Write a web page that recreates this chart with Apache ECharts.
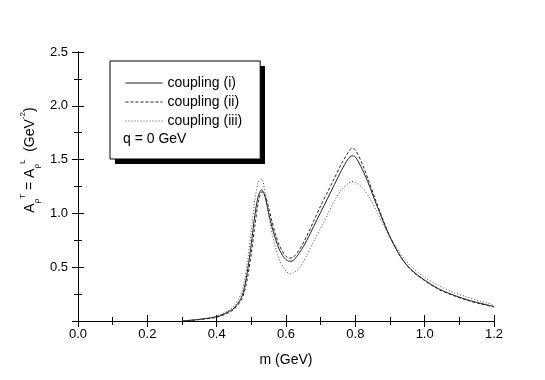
<!DOCTYPE html>
<html>
<head>
<meta charset="utf-8">
<script src="https://cdn.jsdelivr.net/npm/echarts@6/dist/echarts.min.js"></script>
<style>
html, body { margin: 0; padding: 0; background: #fff; }
#main { width: 545px; height: 380px; }
</style>
</head>
<body>
<div id="main"></div>
<script>
// m (GeV)
var mass = [0.30, 0.35, 0.40, 0.43, 0.45, 0.47, 0.48, 0.49, 0.50, 0.51, 0.52, 0.53, 0.54,
	0.55, 0.56, 0.57, 0.58, 0.59, 0.60, 0.61, 0.62, 0.64, 0.66, 0.68, 0.70, 0.72, 0.74,
	0.76, 0.78, 0.79, 0.80, 0.82, 0.84, 0.86, 0.88, 0.90, 0.93, 0.96, 1.00, 1.04, 1.08,
	1.12, 1.16, 1.20];
// coupling (i)
var coupling1 = [0.00, 0.015, 0.04, 0.08, 0.12, 0.21, 0.31, 0.49, 0.72, 0.98, 1.16, 1.22, 1.15,
	1.00, 0.87, 0.76, 0.67, 0.61, 0.57, 0.555, 0.56, 0.64, 0.75, 0.88, 1.01, 1.14, 1.27,
	1.40, 1.51, 1.535, 1.525, 1.41, 1.26, 1.09, 0.93, 0.78, 0.60, 0.48, 0.38, 0.30, 0.245,
	0.20, 0.165, 0.135];
// coupling (ii)
var coupling2 = [0.00, 0.013, 0.035, 0.07, 0.11, 0.19, 0.27, 0.42, 0.63, 0.88, 1.10, 1.20, 1.17,
	1.05, 0.92, 0.80, 0.71, 0.645, 0.60, 0.585, 0.59, 0.67, 0.79, 0.93, 1.07, 1.20, 1.33,
	1.46, 1.57, 1.605, 1.59, 1.46, 1.29, 1.11, 0.94, 0.785, 0.60, 0.475, 0.375, 0.295, 0.24,
	0.195, 0.16, 0.13];
// coupling (iii)
var coupling3 = [0.00, 0.016, 0.045, 0.09, 0.14, 0.25, 0.37, 0.58, 0.85, 1.12, 1.29, 1.32, 1.18,
	0.98, 0.81, 0.68, 0.58, 0.51, 0.465, 0.44, 0.445, 0.50, 0.61, 0.74, 0.86, 0.99, 1.12,
	1.22, 1.28, 1.295, 1.29, 1.24, 1.15, 1.03, 0.90, 0.78, 0.625, 0.51, 0.405, 0.33, 0.27,
	0.225, 0.185, 0.15];

var seriesNames = ['coupling (i)', 'coupling (ii)', 'coupling (iii)'];
var xTicks = [0.0, 0.2, 0.4, 0.6, 0.8, 1.0, 1.2];
var yTicks = [0.5, 1.0, 1.5, 2.0, 2.5];

function pairs(ys) {
	var out = [];
	for (var i = 0; i < mass.length; i++) {
		out.push([mass[i], ys[i]]);
	}
	return out;
}

var font = 'Liberation Sans, Arial, Helvetica, sans-serif';

// 图例框的大小(阴影要和它对齐)
var legendLeft = 110, legendTop = 61;
var legendPad = [15, 18, 31, 15];
var ctx = document.createElement('canvas').getContext('2d');
ctx.font = '14px ' + font;
var maxText = 0;
seriesNames.forEach(function(n) {
	maxText = Math.max(maxText, ctx.measureText(n).width);
});
var legendW = legendPad[3] + 37 + 5 + Math.ceil(maxText) + legendPad[1];
var legendH = legendPad[0] + 3 * 14 + 2 * 5 + legendPad[2];

var chart = echarts.init(document.getElementById('main'));

// 坐标轴的公共样式
function axisBase(showLabel) {
	return {
		axisLine : { lineStyle : { color : '#000', width : 1 } },
		axisTick : { inside : true, length : 6, lineStyle : { color : '#000' } },
		minorTick : { show : true, splitNumber : 2, length : 4, lineStyle : { color : '#000' } },
		splitLine : { show : false },
		axisLabel : {
			show : showLabel,
			color : '#000',
			fontFamily : font,
			fontSize : 13,
			margin : 7
		}
	};
}

var xBottom = axisBase(true);
xBottom.type = 'value';
xBottom.min = 0;
xBottom.max = 1.2;
xBottom.interval = 0.2;
xBottom.position = 'bottom';
xBottom.axisLabel.formatter = function(v) {
	return xTicks.indexOf(Math.round(v * 10) / 10) >= 0 ? v.toFixed(1) : '';
};
xBottom.name = 'm (GeV)';
xBottom.nameLocation = 'middle';
xBottom.nameGap = 32;
xBottom.nameTextStyle = { color : '#000', fontFamily : font, fontSize : 14 };

var xTop = axisBase(false);
xTop.type = 'value';
xTop.min = 0;
xTop.max = 1.2;
xTop.interval = 0.2;
xTop.position = 'top';

var yLeft = axisBase(true);
yLeft.type = 'value';
yLeft.min = 0;
yLeft.max = 2.5;
yLeft.interval = 0.5;
yLeft.position = 'left';
yLeft.axisLabel.margin = 10;
yLeft.axisLabel.formatter = function(v) {
	return yTicks.indexOf(Math.round(v * 10) / 10) >= 0 ? v.toFixed(1) : '';
};

var yRight = axisBase(false);
yRight.type = 'value';
yRight.min = 0;
yRight.max = 2.5;
yRight.interval = 0.5;
yRight.position = 'right';

var styles = [
	{ color : '#222', type : 'solid' },
	{ color : '#222', type : [3, 2] },
	{ color : '#444', type : [1, 2] }
];
var dataSets = [coupling1, coupling2, coupling3];

var series = [];
for (var k = 0; k < 3; k++) {
	series.push({
		name : seriesNames[k],
		type : 'line',
		xAxisIndex : 0,
		yAxisIndex : 0,
		smooth : 0.3,
		symbol : 'none',
		lineStyle : { color : styles[k].color, width : 1, type : styles[k].type },
		itemStyle : { color : styles[k].color },
		data : pairs(dataSets[k])
	});
}

var option = {
	backgroundColor : '#fff',
	animation : false,
	grid : { left : 78, right : 51, top : 52, bottom : 59 },
	xAxis : [ xBottom, xTop ],
	yAxis : [ yLeft, yRight ],
	legend : {
		orient : 'vertical',
		left : legendLeft,
		top : legendTop,
		z : 20,
		data : seriesNames,
		itemWidth : 37,
		itemHeight : 14,
		itemGap : 5,
		padding : legendPad,
		backgroundColor : '#fff',
		borderColor : '#000',
		borderWidth : 1,
		itemStyle : { color : 'transparent', borderWidth : 0, opacity : 0 },
		lineStyle : { width : 1 },
		textStyle : { color : '#000', fontFamily : font, fontSize : 14 },
		selectedMode : false
	},
	graphic : [
		{
			// 图例的黑色阴影
			type : 'rect',
			left : legendLeft + 5,
			top : legendTop + 5,
			z : 10,
			silent : true,
			shape : { width : legendW, height : legendH },
			style : { fill : '#000' }
		},
		{
			type : 'text',
			left : 123,
			top : 132,
			z : 100,
			style : { text : 'q = 0 GeV', fill : '#000', font : '14px ' + font }
		},
		{
			type : 'text',
			x : 30,
			y : 160,
			rotation : Math.PI / 2,
			z : 100,
			style : {
				text : '{a|A}{s|ρ}{p|T}{a| = A}{s|ρ}{p|L}{a|  (GeV}{p|-2}{a|)}',
				align : 'center',
				verticalAlign : 'middle',
				rich : {
					a : { fontFamily : font, fontSize : 14, lineHeight : 22, fill : '#000', verticalAlign : 'middle' },
					s : { fontFamily : font, fontSize : 8, lineHeight : 8, fill : '#000', verticalAlign : 'bottom' },
					p : { fontFamily : font, fontSize : 8, lineHeight : 8, fill : '#000', verticalAlign : 'top' }
				}
			}
		}
	],
	series : series
};

chart.setOption(option);
</script>
</body>
</html>
